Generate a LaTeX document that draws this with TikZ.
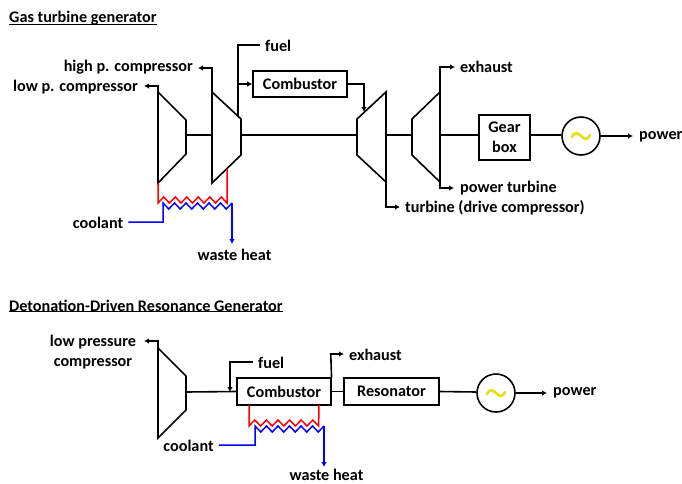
\documentclass[tikz,border=0pt]{standalone}
\usepackage{fontspec}
\setmainfont{Carlito}
\usetikzlibrary{arrows.meta,calc}
\tikzset{
  pline/.style={line width=1.6pt,draw=black,line join=miter},
  arr/.style={pline,-{Latex[length=5pt,width=5.5pt]}},
  coolarr/.style={cool,-{Latex[length=5pt,width=5.5pt]}},
  hot/.style={line width=1.5pt,draw=red,line join=miter},
  cool/.style={line width=1.5pt,draw=blue,line join=miter},
  boxn/.style={draw=black,line width=1.6pt,minimum height=26.5pt,inner sep=0pt,align=center,font=\fontsize{16.2}{20}\selectfont\bfseries},
  lab/.style={inner sep=0pt,font=\fontsize{16.2}{20}\selectfont\bfseries,text=black},
  gen/.style={circle,draw=black,line width=1.6pt,minimum size=38pt,inner sep=0pt},
  ac/.style={draw=yellow!90!black,line width=2.6pt,line cap=round}
}
\begin{document}
\begin{tikzpicture}[x=1pt,y=-1pt]
\useasboundingbox (0,0) rectangle (682,483);
% ---- top
\node[lab,anchor=west] (t1) at (9,18) {Gas turbine generator};
\draw[line width=1.2pt,black] ($(t1.south west)+(0,-0.5)$) -- ($(t1.south east)+(0,-0.5)$);
\coordinate (a1) at (158,92); \coordinate (a2) at (186,120); \coordinate (a3) at (186,154); \coordinate (a4) at (158,183);
\draw[pline] (a1)--(a2)--(a3)--(a4)--cycle;
\coordinate (b1) at (212,92); \coordinate (b2) at (241,119); \coordinate (b3) at (241,155); \coordinate (b4) at (212,183);
\draw[pline] (b1)--(b2)--(b3)--(b4)--cycle;
\coordinate (c1) at (357,119); \coordinate (c2) at (386,92); \coordinate (c3) at (386,182); \coordinate (c4) at (357,155);
\draw[pline] (c1)--(c2)--(c3)--(c4)--cycle;
\coordinate (d1) at (412,119); \coordinate (d2) at (440,92); \coordinate (d3) at (440,182); \coordinate (d4) at (412,155);
\draw[pline] (d1)--(d2)--(d3)--(d4)--cycle;
\node[lab,anchor=east] (lp) at (138,87) {low p. compressor};
\node[lab,anchor=east] (hp) at (193,67) {high p. compressor};
\node[lab,anchor=west] (fuel1) at (265,46) {fuel};
\node[lab,anchor=west] (exh1) at (460,67) {exhaust};
\node[lab,anchor=west] (pt) at (460,188) {power turbine};
\node[lab,anchor=west] (tdc) at (405,208) {turbine (drive compressor)};
\node[lab,anchor=west] (pw1) at (639,137) {power};
\node[lab] (cool1) at (98,223) {coolant};
\node[lab] (wh1) at (234.5,255) {waste heat};
\node[boxn,minimum width=94pt] (cb1) at (300,84) {\raisebox{-1pt}{Combustor}};
\node[boxn,minimum width=51pt,minimum height=45pt] (gb) at (504.5,137.5) {\raisebox{-1.5pt}{Gear}\\\raisebox{-1.5pt}{box}};
\node[gen] (g1) at (581,136) {};
\draw[ac] (572,137) .. controls (575,131) and (578,133) .. (581,136) .. controls (584,139) and (587,141) .. (590,135);
\draw[pline] (186,135) -- (212,135);
\draw[pline] (241,135) -- (357,135);
\draw[pline] (386,135) -- (412,135);
\draw[pline] (440,135) -- (gb.west|-440,135);
\draw[pline] (gb.east|-530,135) -- (g1.west|-562,135);
\draw[arr] (g1.east) -- ($(pw1.west)+(-6,-1)$);
\draw[arr] (a1) -- (158,86) -- ($(lp.east)+(6,-1)$);
\draw[arr] (b1) -- (212,68) -- (198,68);
\draw[pline] (238,116) -- (238,45) -- ($(fuel1.west)+(-5,-1)$);
\draw[arr] (238,84) -- (cb1.west);
\draw[arr] (cb1.east) -- (364,84) -- (364,112);
\draw[arr] (d2) -- (440,67) -- ($(exh1.west)+(-5,0)$);
\draw[arr] (d3) -- (440,188) -- ($(pt.west)+(-6,0)$);
\draw[arr] (c3) -- (386,207) -- ($(tdc.west)+(-5,-1)$);
\draw[hot] (a4) -- (158,203) \foreach \i in {0,...,5}{ -- ++(5.75,-6) -- ++(5.75,6)} -- (227,169);
\draw[cool] ($(cool1.east)+(5,-1)$) -- (163,222) -- (163,203) \foreach \i in {0,...,5}{ -- ++(5.75,6) -- ++(5.75,-6)} coordinate (z1);
\draw[coolarr] (z1) -- (232,244);
% ---- bottom
\node[lab,anchor=west] (t2) at (9,306) {Detonation-Driven Resonance Generator};
\draw[line width=1.2pt,black] ($(t2.south west)+(0,-0.5)$) -- ($(t2.south east)+(0,-0.5)$);
\coordinate (e1) at (158,348); \coordinate (e2) at (186,376); \coordinate (e3) at (186,410); \coordinate (e4) at (158,438);
\draw[pline] (e1)--(e2)--(e3)--(e4)--cycle;
\node[lab,align=center] (lpc) at (93,352) {low pressure\\compressor};
\node[boxn,minimum width=93.5pt] (cb2) at (284,391.5) {\raisebox{-1pt}{Combustor}};
\node[boxn,minimum width=95pt] (res) at (391.5,391.5) {\raisebox{-1pt}{Resonator}};
\node[gen] (g2) at (496,393) {};
\draw[ac] (487,394) .. controls (490,388) and (493,390) .. (496,393) .. controls (499,396) and (502,398) .. (505,392);
\node[lab,anchor=west] (fuel2) at (258,363) {fuel};
\node[lab,anchor=west] (exh2) at (349,355) {exhaust};
\node[lab,anchor=west] (pw2) at (553,393) {power};
\node[lab] (cool2) at (188.5,446) {coolant};
\node[lab] (wh2) at (326.5,475) {waste heat};
\draw[arr] (e1) -- (158,341) -- (144,341);
\draw[pline] (186,392) -- (cb2.west);
\draw[arr] ($(fuel2.west)+(-5,-1)$) -- (230,362) -- (230,392);
\draw[arr] (cb2.north east) -- (330.75,354) -- ($(exh2.west)+(-5,-1)$);
\draw[pline] (cb2.east) -- (res.west);
\draw[pline] (res.east) -- (g2.west|-439,392);
\draw[arr] (g2.east) -- ($(pw2.west)+(-6,0)$);
\draw[hot] (249,405) -- (249,426) \foreach \i in {0,...,5}{ -- ++(5.8,-6) -- ++(5.8,6)} -- (319,405);
\draw[cool] ($(cool2.east)+(5,-1)$) -- (255,445) -- (255,426) \foreach \i in {0,...,5}{ -- ++(5.75,6) -- ++(5.75,-6)} coordinate (z2);
\draw[coolarr] (z2) -- (324,467);
\end{tikzpicture}
\end{document}
